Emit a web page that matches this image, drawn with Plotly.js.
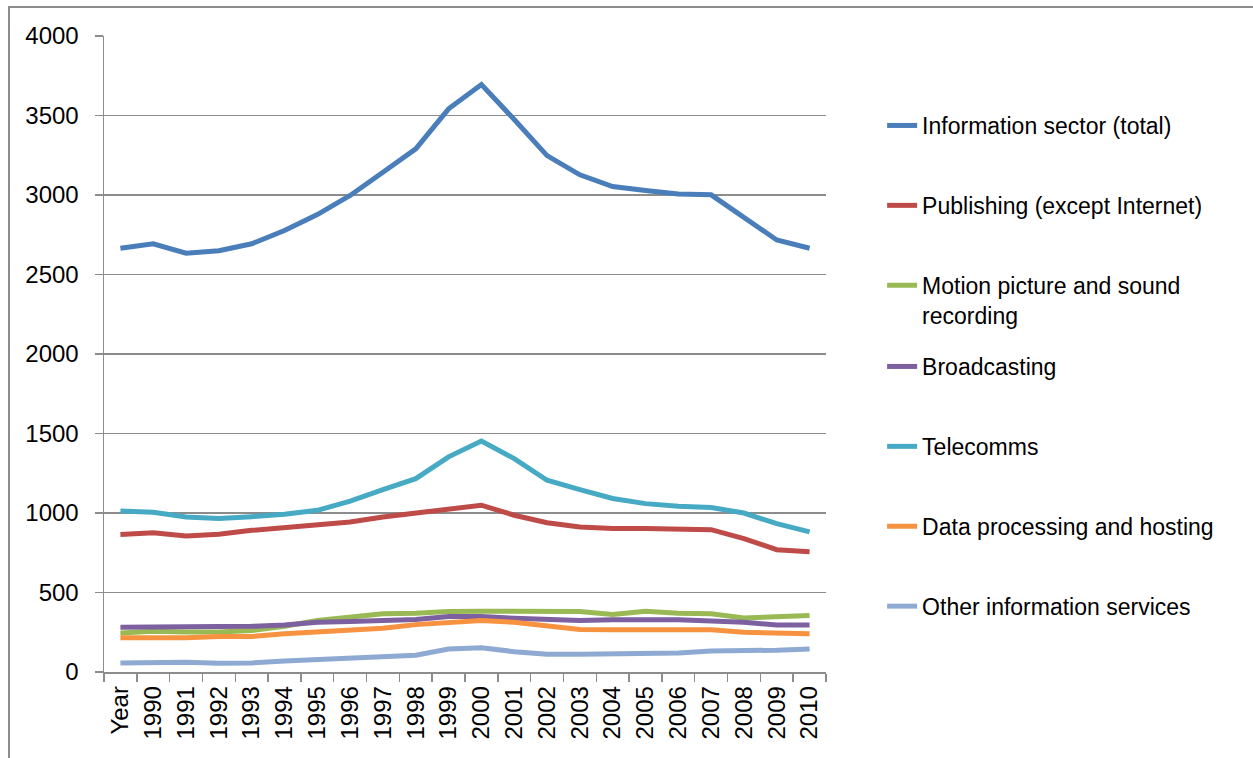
<!DOCTYPE html>
<html>
<head>
<meta charset="utf-8">
<script src="https://cdn.plot.ly/plotly-3.0.1.min.js"></script>
<style>
  html, body { margin: 0; padding: 0; background: #fff; }
  #chart { position: absolute; left: 0; top: 0; width: 1253px; height: 758px; }
  #frame { position: absolute; left: 8px; top: 6px; width: 1245px; height: 752px;
           border-left: 2px solid #8c8c8c; border-top: 2px solid #8c8c8c;
           pointer-events: none; box-sizing: border-box; }
</style>
</head>
<body>
<div id="chart"></div>
<div id="frame"></div>
<script>
const categories = ["Year","1990","1991","1992","1993","1994","1995","1996","1997","1998","1999",
                    "2000","2001","2002","2003","2004","2005","2006","2007","2008","2009","2010"];

const infoTotal   = [2665, 2693, 2634, 2649, 2693, 2777, 2877, 2997, 3143, 3290, 3542, 3695, 3475, 3248, 3127, 3053, 3028, 3007, 3001, 2857, 2717, 2665];
const publishing  = [864, 876, 855, 866, 891, 908, 927, 943, 975, 1000, 1028, 1049, 986, 939, 912, 902, 902, 902, 895, 839, 769, 757];
const motion      = [246, 256, 252, 251, 261, 288, 324, 344, 366, 370, 380, 382, 380, 382, 380, 361, 382, 370, 366, 340, 346, 355];
const broadcasting= [281, 281, 280, 280, 287, 296, 313, 317, 324, 330, 349, 349, 338, 328, 324, 328, 328, 328, 320, 313, 296, 296];
const telecomms   = [1013, 1004, 975, 965, 977, 992, 1017, 1074, 1147, 1216, 1353, 1453, 1342, 1206, 1147, 1091, 1059, 1042, 1034, 1000, 933, 881];
const dataProc    = [215, 214, 215, 223, 223, 240, 254, 265, 275, 298, 313, 324, 313, 288, 267, 265, 265, 265, 265, 250, 244, 240];
const otherInfo   = [57, 61, 61, 55, 57, 69, 77, 84, 90, 105, 145, 153, 128, 111, 111, 115, 120, 120, 132, 132, 137, 145];

const seriesNames = ["Information sector (total)", "Publishing (except Internet)",
                     "Motion picture and sound<br>recording", "Broadcasting", "Telecomms",
                     "Data processing and hosting", "Other information services"];
const seriesData = [infoTotal, publishing, motion, broadcasting, telecomms, dataProc, otherInfo];
const seriesColors = ["#4a7ebb", "#be4b48", "#98b954", "#7d60a0", "#46aac5", "#f69240", "#8eaad2"];

const FONT = "Liberation Sans, Arial, sans-serif";
const FS = 24;

const traces = seriesData.map((vals, i) => ({
  type: "scatter",
  mode: "lines",
  x: categories,
  y: vals,
  name: seriesNames[i],
  line: { color: seriesColors[i], width: 5 },
  legendgroup: "g" + i,
  legend: i < 3 ? "legend" : "legend2",
  hoverinfo: "skip"
}));

const legendBase = {
  xref: "container", yref: "container",
  x: 0.704, xanchor: "left", yanchor: "top",
  font: { family: FONT, size: 23, color: "#000" },
  bgcolor: "rgba(0,0,0,0)",
  tracegroupgap: 47,
  valign: "top",
  traceorder: "grouped"
};

const layout = {
  width: 1253, height: 758,
  margin: { l: 104, r: 427, t: 36, b: 86 },
  paper_bgcolor: "#fff", plot_bgcolor: "#fff",
  showlegend: true,
  font: { family: FONT, size: FS, color: "#000" },
  xaxis: {
    type: "category",
    range: [-0.5, 21.5],
    tickson: "boundaries",
    ticks: "outside", ticklen: 8, tickwidth: 1.5, tickcolor: "#8c8c8c",
    tickangle: -90,
    ticklabelstandoff: 3,
    showline: true, linecolor: "#8c8c8c", linewidth: 1.5,
    showgrid: false, zeroline: false,
    tickfont: { family: FONT, size: FS, color: "#000" },
    fixedrange: true
  },
  yaxis: {
    range: [0, 4000],
    dtick: 500, tick0: 0,
    ticks: "outside", ticklen: 8, tickwidth: 1.5, tickcolor: "#8c8c8c",
    showline: true, linecolor: "#8c8c8c", linewidth: 1.5,
    showgrid: true, gridcolor: "#8c8c8c", gridwidth: 1.5,
    zeroline: false,
    ticklabelstandoff: 11,
    tickfont: { family: FONT, size: FS, color: "#000" },
    fixedrange: true
  },
  legend: Object.assign({}, legendBase, { y: 1 - 104 / 758 }),
  legend2: Object.assign({}, legendBase, { y: 1 - 345 / 758 })
};

Plotly.newPlot("chart", traces, layout, { staticPlot: true, displayModeBar: false });
</script>
</body>
</html>
